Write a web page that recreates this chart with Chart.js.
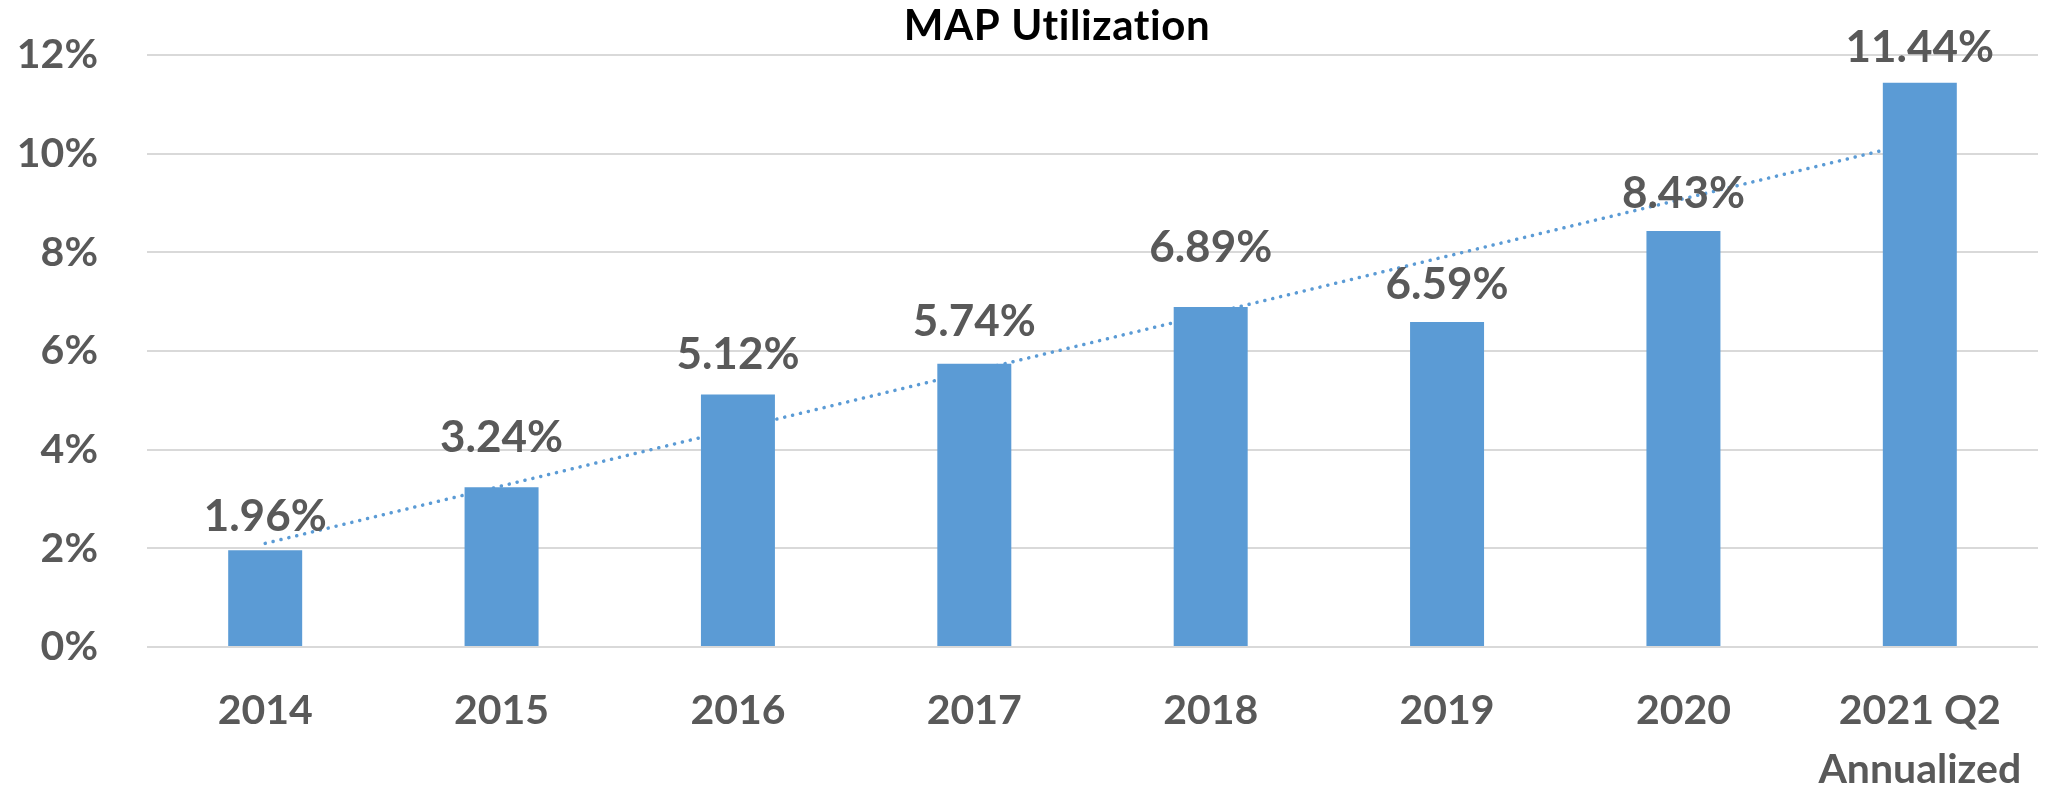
<!DOCTYPE html>
<html><head><meta charset="utf-8">
<script src="https://cdn.jsdelivr.net/npm/chart.js@4/dist/chart.umd.min.js"></script>
<style>html,body{margin:0;padding:0;background:#fff}#wrap{width:2048px;height:791px}</style>
</head><body><div id="wrap"><canvas id="c" width="2048" height="791"></canvas></div>
<script>
// ---- data ----
const categories = ['2014', '2015', '2016', '2017', '2018', '2019', '2020', ['2021 Q2', 'Annualized']];
const utilization = [1.96, 3.24, 5.12, 5.74, 6.89, 6.59, 8.43, 11.44];
const trendEnds = [2.10, 10.25];          // dotted linear trendline, value at first and last category
const yTickValues = [0, 2, 4, 6, 8, 10, 12];
const chartTitle = 'MAP Utilization';

// ---- styling ----
const FONT = 'Lato, "Open Sans", "Noto Sans", sans-serif';
const GREY = '#595959';
const BLUE = '#5B9BD5';
// extra vertical shift (px) of individual data labels, as placed in the original
const labelShift = [3, -13, -3, -6, -23, -1, -1, 1];

const trendData = categories.map((_, i) =>
  i === 0 ? trendEnds[0] : (i === categories.length - 1 ? trendEnds[1] : null));

const valueLabels = {
  id: 'valueLabels',
  afterDatasetsDraw(chart) {
    const meta = chart.getDatasetMeta(0);
    const ctx = chart.ctx;
    ctx.save();
    ctx.font = 'bold 44px ' + FONT;
    ctx.fillStyle = GREY;
    ctx.textAlign = 'center';
    ctx.textBaseline = 'alphabetic';
    meta.data.forEach((bar, i) => {
      const v = chart.data.datasets[0].data[i];
      ctx.fillText(v.toFixed(2) + '%', bar.x, bar.y - 22 + labelShift[i]);
    });
    ctx.restore();
  }
};

// chart title, centred where the original puts it (slightly left of the plot centre)
const titleText = {
  id: 'titleText',
  afterDraw(chart) {
    const ctx = chart.ctx;
    ctx.save();
    ctx.font = 'bold 42px ' + FONT;
    if ('letterSpacing' in ctx) ctx.letterSpacing = '0.6px';
    ctx.fillStyle = '#000000';
    ctx.textAlign = 'center';
    ctx.textBaseline = 'alphabetic';
    ctx.fillText(chartTitle, 1057, 40);
    ctx.restore();
  }
};

function build() {
  new Chart(document.getElementById('c'), {
    type: 'bar',
    data: {
      labels: categories,
      datasets: [
        {
          type: 'bar',
          label: 'MAP Utilization',
          data: utilization,
          backgroundColor: BLUE,
          borderWidth: 0,
          categoryPercentage: 1,
          barPercentage: 0.313,
          order: 0
        },
        {
          type: 'line',
          label: 'Linear trend',
          data: trendData,
          spanGaps: true,
          borderColor: BLUE,
          borderWidth: 3.5,
          borderDash: [0.1, 8],
          borderCapStyle: 'round',
          pointRadius: 0,
          fill: false,
          tension: 0,
          order: 1
        }
      ]
    },
    options: {
      responsive: false,
      animation: false,
      devicePixelRatio: 1,
      layout: { padding: { left: 0, right: 10, top: 55, bottom: 0 } },
      plugins: {
        legend: { display: false },
        tooltip: { enabled: false },
        title: { display: false }
      },
      scales: {
        x: {
          offset: true,
          grid: { display: true, drawOnChartArea: false, drawTicks: true, tickLength: 34, tickColor: 'rgba(0,0,0,0)' },
          border: { display: false },
          ticks: {
            padding: 0,
            color: GREY,
            maxRotation: 0,
            autoSkip: false,
            font: { family: FONT, size: 41, weight: 'bold', lineHeight: 1.45 }
          },
          afterFit(scale) { scale.height = 144; }
        },
        y: {
          min: 0,
          max: 12,
          afterBuildTicks(scale) { scale.ticks = yTickValues.map(v => ({ value: v })); },
          grid: { color: '#D9D9D9', lineWidth: 2, drawTicks: true, tickLength: 49, tickColor: 'rgba(0,0,0,0)' },
          border: { display: false },
          ticks: {
            padding: 0,
            color: GREY,
            font: { family: FONT, size: 41, weight: 'bold', lineHeight: 1.2 },
            callback: v => v + '%'
          },
          afterFit(scale) { scale.width = 147; }
        }
      }
    },
    plugins: [valueLabels, titleText]
  });
}

if (document.fonts && document.fonts.load) {
  Promise.all([document.fonts.load('bold 41px Lato'), document.fonts.load('bold 44px Lato')])
    .then(build, build);
} else { build(); }
</script>
</body></html>
